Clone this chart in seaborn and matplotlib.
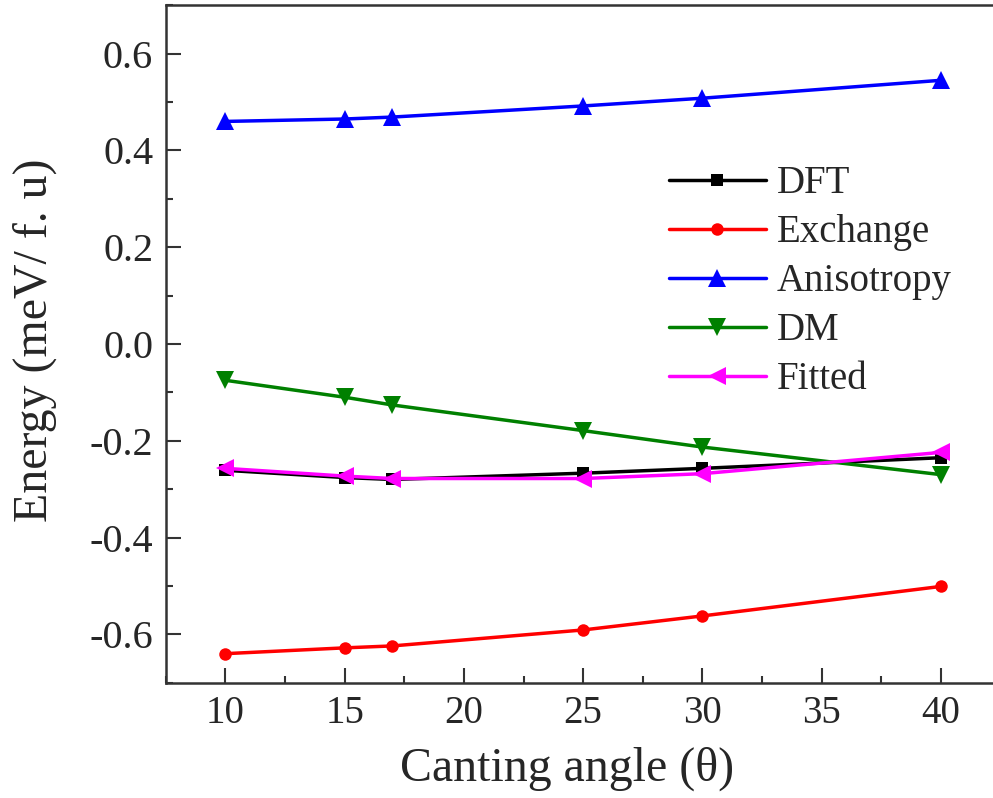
import matplotlib
matplotlib.use("Agg")
import matplotlib.pyplot as plt
import seaborn as sns
import pandas as pd
from matplotlib.ticker import MultipleLocator

angles = [10, 15, 17, 25, 30, 40]
dft = [-0.261, -0.276, -0.280, -0.267, -0.257, -0.235]
exchange = [-0.640, -0.628, -0.624, -0.591, -0.562, -0.501]
anisotropy = [0.460, 0.465, 0.469, 0.492, 0.508, 0.545]
dm = [-0.075, -0.110, -0.126, -0.179, -0.213, -0.270]
fitted = [-0.257, -0.273, -0.278, -0.278, -0.268, -0.224]

series_names = ["DFT", "Exchange", "Anisotropy", "DM", "Fitted"]
series_values = [dft, exchange, anisotropy, dm, fitted]
colors = ["#000000", "#ff0000", "#0000ff", "#008000", "#ff00ff"]
markers = ["s", "o", "^", "v", "<"]
msizes = [8, 9, 13, 13, 13]

sns.set_theme(style="white")
plt.rcParams["font.family"] = ["Liberation Serif", "DejaVu Serif"]

fig = plt.figure(figsize=(9.93, 7.98), dpi=100)
ax = fig.add_axes([165.7 / 993, 1 - 682.7 / 798, (1000.6 - 165.7) / 993, (682.7 - 5.3) / 798])

for name, vals, c, m, ms in zip(series_names, series_values, colors, markers, msizes):
    df = pd.DataFrame({"angle": angles, "energy": vals})
    sns.lineplot(data=df, x="angle", y="energy", ax=ax, color=c, marker=m,
                 markersize=ms, markeredgewidth=0, linewidth=2.5, label=name)

ax.set_xlim(7.5, 42.5)
ax.set_ylim(-0.7, 0.7)
ax.xaxis.set_minor_locator(MultipleLocator(2.5))
ax.yaxis.set_minor_locator(MultipleLocator(0.1))
ax.set_xticks([10, 15, 20, 25, 30, 35, 40])
ax.set_yticks([-0.6, -0.4, -0.2, 0.0, 0.2, 0.4, 0.6])
ax.set_yticklabels(["-0.6", "-0.4", "-0.2", "0.0", "0.2", "0.4", "0.6"])
ax.tick_params(which="major", direction="in", length=11, width=1.5,
               color="#333333", left=True, bottom=True)
ax.tick_params(which="minor", direction="in", length=5, width=1.5,
               color="#333333", left=True, bottom=True)
ax.tick_params(axis="x", labelsize=28, pad=9)
ax.tick_params(axis="y", labelsize=29, pad=9)
for s in ax.spines.values():
    s.set_color("#333333")
    s.set_linewidth(1.8)
ax.spines["right"].set_visible(False)

ax.set_xlabel("Canting angle (θ)", fontsize=34.5, labelpad=15)
ax.set_ylabel("Energy (meV/ f. u)", fontsize=34.5)
ax.xaxis.set_label_coords((567 - 165.7) / 835, -0.095)
ax.yaxis.set_label_coords((57 - 165.7) / 835, (798 - 340 - 115.3) / 677.4)
ax.grid(False)

leg = ax.legend(loc="upper left", bbox_to_anchor=(0.584, 0.787), frameon=False,
                fontsize=28, handlelength=2.5, handletextpad=0.28, labelspacing=0.31,
                borderaxespad=0)

fig.savefig("out.png", dpi=100)
